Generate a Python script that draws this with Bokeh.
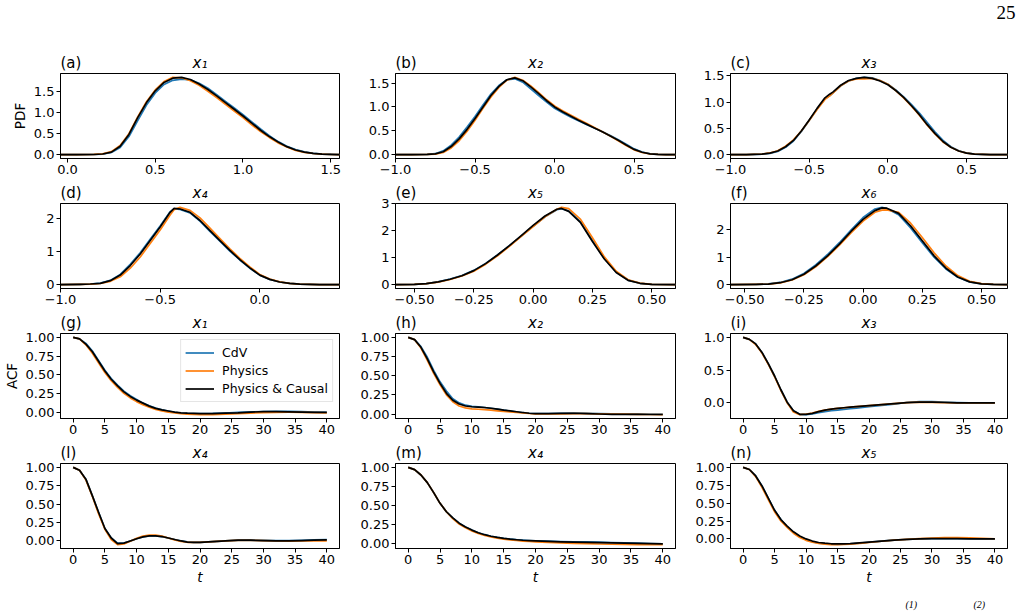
from bokeh.plotting import figure
from bokeh.models import Range1d, FixedTicker, Label, Legend, LegendItem
from bokeh.layouts import column, row
from bokeh.embed import file_html
from bokeh.resources import INLINE

SANS = "DejaVu Sans"
SERIF = "Liberation Serif"
C_CDV = "#1f77b4"
C_PHYS = "#ff7f0e"
C_CAUSAL = "#000000"
series_names = ["CdV", "Physics", "Physics & Causal"]

# ---------------- PDF panels ----------------
pdf_a_x = [-0.04, 0.05, 0.15, 0.2, 0.25, 0.3, 0.35, 0.4, 0.45, 0.5, 0.55, 0.6, 0.65, 0.7, 0.75,
           0.8, 0.85, 0.9, 0.95, 1.0, 1.05, 1.1, 1.15, 1.2, 1.25, 1.3, 1.35, 1.4, 1.45, 1.5, 1.55]
pdf_a_cdv = [0, 0, 0.003, 0.013, 0.05, 0.17, 0.43, 0.81, 1.18, 1.47, 1.67, 1.77, 1.80, 1.78, 1.70,
             1.58, 1.43, 1.27, 1.11, 0.95, 0.78, 0.61, 0.45, 0.31, 0.20, 0.12, 0.065, 0.032, 0.013, 0.004, 0.0]
pdf_a_phys = [0, 0, 0.004, 0.018, 0.07, 0.22, 0.50, 0.90, 1.26, 1.54, 1.74, 1.84, 1.83, 1.76, 1.65,
              1.51, 1.36, 1.20, 1.04, 0.88, 0.71, 0.55, 0.41, 0.28, 0.18, 0.10, 0.055, 0.027, 0.010, 0.003, 0.0]
pdf_a_causal = [0, 0, 0.003, 0.015, 0.06, 0.20, 0.48, 0.88, 1.24, 1.52, 1.72, 1.82, 1.84, 1.79, 1.68,
                1.55, 1.40, 1.24, 1.08, 0.92, 0.75, 0.58, 0.43, 0.30, 0.19, 0.11, 0.06, 0.03, 0.012, 0.004, 0.0]

pdf_b_x = [-1.0, -0.9, -0.8, -0.75, -0.7, -0.65, -0.6, -0.55, -0.5, -0.45, -0.4, -0.35, -0.3, -0.25,
           -0.2, -0.15, -0.1, -0.05, 0.0, 0.05, 0.1, 0.15, 0.2, 0.25, 0.3, 0.35, 0.4, 0.45, 0.5, 0.55,
           0.6, 0.65, 0.7, 0.76]
pdf_b_cdv = [0, 0, 0.006, 0.02, 0.08, 0.20, 0.37, 0.58, 0.80, 1.04, 1.27, 1.45, 1.57, 1.59, 1.52, 1.38,
             1.24, 1.10, 0.97, 0.88, 0.79, 0.71, 0.63, 0.56, 0.48, 0.40, 0.31, 0.22, 0.12, 0.055, 0.018,
             0.006, 0.0, 0.0]
pdf_b_phys = [0, 0, 0.004, 0.012, 0.045, 0.14, 0.29, 0.49, 0.72, 0.97, 1.21, 1.41, 1.56, 1.62, 1.56,
              1.44, 1.30, 1.15, 1.02, 0.92, 0.83, 0.74, 0.66, 0.57, 0.48, 0.39, 0.29, 0.19, 0.10, 0.045,
              0.013, 0.004, 0.0, 0.0]
pdf_b_causal = [0, 0, 0.005, 0.015, 0.06, 0.17, 0.33, 0.53, 0.76, 1.00, 1.24, 1.43, 1.57, 1.61, 1.55,
                1.42, 1.28, 1.13, 1.00, 0.90, 0.81, 0.72, 0.64, 0.56, 0.48, 0.39, 0.30, 0.20, 0.11, 0.05,
                0.015, 0.005, 0.0, 0.0]

pdf_c_x = [-1.0, -0.9, -0.8, -0.75, -0.7, -0.65, -0.6, -0.55, -0.5, -0.45, -0.4, -0.37, -0.35, -0.3,
           -0.25, -0.2, -0.15, -0.1, -0.05, 0.0, 0.05, 0.1, 0.15, 0.2, 0.25, 0.3, 0.35, 0.4, 0.45, 0.5,
           0.55, 0.6, 0.65, 0.76]
pdf_c_cdv = [0, 0, 0.01, 0.025, 0.06, 0.14, 0.26, 0.44, 0.65, 0.87, 1.06, 1.12, 1.17, 1.31, 1.40, 1.45,
             1.47, 1.46, 1.41, 1.34, 1.23, 1.10, 0.95, 0.79, 0.61, 0.43, 0.27, 0.15, 0.075, 0.032, 0.011,
             0.004, 0, 0]
pdf_c_phys = [0, 0, 0.012, 0.032, 0.075, 0.16, 0.28, 0.45, 0.65, 0.86, 1.05, 1.12, 1.17, 1.31, 1.40, 1.44,
              1.44, 1.45, 1.41, 1.34, 1.22, 1.08, 0.92, 0.75, 0.56, 0.39, 0.24, 0.14, 0.07, 0.03, 0.012,
              0.005, 0, 0]
pdf_c_causal = [0, 0, 0.01, 0.03, 0.07, 0.15, 0.27, 0.45, 0.66, 0.88, 1.08, 1.15, 1.19, 1.32, 1.41, 1.45,
                1.47, 1.45, 1.40, 1.33, 1.22, 1.09, 0.93, 0.76, 0.57, 0.40, 0.25, 0.14, 0.07, 0.03, 0.01,
                0.005, 0, 0]

pdf_d_x = [-1.0, -0.9, -0.85, -0.8, -0.75, -0.7, -0.65, -0.6, -0.55, -0.5, -0.45, -0.43, -0.4, -0.35,
           -0.3, -0.25, -0.2, -0.15, -0.1, -0.05, 0.0, 0.05, 0.1, 0.15, 0.2, 0.3, 0.4]
pdf_d_cdv = [0, 0.01, 0.02, 0.045, 0.13, 0.31, 0.62, 0.97, 1.38, 1.78, 2.22, 2.30, 2.29, 2.18, 1.93, 1.62,
             1.32, 1.02, 0.75, 0.50, 0.29, 0.16, 0.08, 0.04, 0.015, 0, 0]
pdf_d_phys = [0, 0.008, 0.015, 0.035, 0.10, 0.24, 0.50, 0.84, 1.25, 1.66, 2.12, 2.28, 2.35, 2.26, 2.03,
              1.72, 1.40, 1.09, 0.80, 0.54, 0.31, 0.17, 0.085, 0.04, 0.015, 0, 0]
pdf_d_causal = [0, 0.01, 0.02, 0.04, 0.12, 0.29, 0.58, 0.93, 1.34, 1.75, 2.20, 2.32, 2.30, 2.20, 1.95,
                1.64, 1.34, 1.04, 0.76, 0.51, 0.29, 0.16, 0.08, 0.04, 0.015, 0, 0]

pdf_e_x = [-0.58, -0.5, -0.45, -0.4, -0.35, -0.3, -0.25, -0.2, -0.15, -0.1, -0.05, 0.0, 0.05, 0.1, 0.12,
           0.15, 0.2, 0.25, 0.3, 0.35, 0.4, 0.45, 0.5, 0.6]
pdf_e_cdv = [0, 0.01, 0.04, 0.10, 0.21, 0.34, 0.53, 0.79, 1.10, 1.45, 1.80, 2.17, 2.52, 2.78, 2.82, 2.74,
             2.33, 1.64, 0.98, 0.47, 0.17, 0.05, 0.01, 0]
pdf_e_phys = [0, 0.01, 0.035, 0.09, 0.19, 0.32, 0.50, 0.76, 1.07, 1.42, 1.79, 2.16, 2.52, 2.80, 2.87, 2.82,
              2.42, 1.74, 1.03, 0.50, 0.18, 0.055, 0.012, 0]
pdf_e_causal = [0, 0.01, 0.04, 0.10, 0.20, 0.33, 0.52, 0.78, 1.10, 1.45, 1.82, 2.20, 2.55, 2.80, 2.83, 2.72,
                2.30, 1.60, 0.95, 0.45, 0.16, 0.05, 0.01, 0]

pdf_f_x = [-0.56, -0.45, -0.4, -0.35, -0.3, -0.25, -0.2, -0.15, -0.1, -0.05, 0.0, 0.05, 0.08, 0.1, 0.15,
           0.2, 0.25, 0.3, 0.35, 0.4, 0.45, 0.5, 0.55, 0.61]
pdf_f_cdv = [0, 0.01, 0.025, 0.08, 0.20, 0.41, 0.72, 1.10, 1.53, 2.00, 2.45, 2.76, 2.82, 2.78, 2.55, 2.08,
             1.53, 1.00, 0.57, 0.27, 0.10, 0.03, 0.01, 0]
pdf_f_phys = [0, 0.01, 0.02, 0.065, 0.17, 0.36, 0.65, 1.02, 1.44, 1.90, 2.32, 2.64, 2.72, 2.73, 2.64, 2.25,
              1.72, 1.16, 0.68, 0.33, 0.12, 0.035, 0.01, 0]
pdf_f_causal = [0, 0.01, 0.02, 0.07, 0.18, 0.38, 0.68, 1.05, 1.48, 1.95, 2.38, 2.70, 2.80, 2.79, 2.60,
                2.15, 1.60, 1.05, 0.60, 0.28, 0.10, 0.03, 0.01, 0]

# ---------------- ACF panels ----------------
lag_t = list(range(0, 21)) + list(range(22, 41, 2))

acf_g_cdv = [1.00, 0.98, 0.92, 0.82, 0.69, 0.56, 0.45, 0.36, 0.28, 0.22, 0.17, 0.12, 0.085, 0.055, 0.03,
             0.012, -0.002, -0.012, -0.018, -0.02, -0.02,
             -0.018, -0.012, -0.005, 0.002, 0.008, 0.01, 0.01, 0.006, 0.0, -0.004]
acf_g_phys = [1.00, 0.98, 0.90, 0.79, 0.66, 0.53, 0.42, 0.33, 0.25, 0.19, 0.14, 0.10, 0.065, 0.035, 0.015,
              0.0, -0.012, -0.022, -0.028, -0.032, -0.034,
              -0.033, -0.028, -0.02, -0.013, -0.007, -0.003, -0.002, -0.004, -0.007, -0.01]
acf_g_causal = [1.00, 0.98, 0.91, 0.81, 0.68, 0.55, 0.44, 0.35, 0.27, 0.21, 0.16, 0.12, 0.08, 0.05, 0.03,
                0.015, 0.0, -0.01, -0.015, -0.018, -0.02,
                -0.02, -0.015, -0.01, 0.0, 0.005, 0.005, 0.003, 0.0, -0.003, -0.005]

acf_h_cdv = [1.0, 0.97, 0.88, 0.74, 0.57, 0.42, 0.30, 0.20, 0.145, 0.115, 0.10, 0.092, 0.085, 0.075, 0.063,
             0.05, 0.038, 0.027, 0.017, 0.01, 0.006,
             0.006, 0.009, 0.012, 0.01, 0.006, 0.002, 0.0, -0.002, -0.003, -0.004]
acf_h_phys = [1.0, 0.97, 0.86, 0.70, 0.53, 0.38, 0.25, 0.16, 0.105, 0.08, 0.068, 0.062, 0.057, 0.05, 0.042,
              0.034, 0.027, 0.02, 0.013, 0.007, 0.003,
              0.0, 0.002, 0.004, 0.004, 0.002, 0.0, -0.002, -0.004, -0.006, -0.008]
acf_h_causal = [1.0, 0.97, 0.87, 0.72, 0.55, 0.40, 0.27, 0.18, 0.13, 0.105, 0.095, 0.09, 0.085, 0.075, 0.065,
                0.05, 0.04, 0.03, 0.02, 0.01, 0.005,
                0.005, 0.008, 0.01, 0.006, 0.0, -0.004, -0.005, -0.005, -0.006, -0.006]

acf_i_cdv = [1.0, 0.97, 0.90, 0.77, 0.60, 0.41, 0.20, 0.01, -0.12, -0.175, -0.18, -0.168, -0.15, -0.135,
             -0.12, -0.11, -0.1, -0.09, -0.08, -0.07, -0.06,
             -0.04, -0.02, 0.005, 0.02, 0.018, 0.01, 0.004, 0.001, 0.0, 0.0]
acf_i_phys = [1.0, 0.97, 0.89, 0.76, 0.59, 0.40, 0.19, 0.0, -0.14, -0.18, -0.17, -0.155, -0.13, -0.11,
              -0.095, -0.085, -0.075, -0.066, -0.058, -0.05, -0.043,
              -0.028, -0.012, 0.003, 0.01, 0.008, 0.004, 0.001, 0.0, 0.0, 0.0]
acf_i_causal = [1.0, 0.97, 0.90, 0.77, 0.60, 0.41, 0.20, 0.01, -0.12, -0.175, -0.175, -0.16, -0.135, -0.11,
                -0.095, -0.085, -0.075, -0.065, -0.057, -0.05, -0.043,
                -0.028, -0.012, 0.004, 0.012, 0.01, 0.005, 0.001, 0.0, 0.0, 0.0]

acf_l_cdv = [1.0, 0.96, 0.84, 0.62, 0.39, 0.17, 0.04, -0.03, -0.03, 0.0, 0.03, 0.055, 0.068, 0.068, 0.058,
             0.04, 0.02, 0.002, -0.012, -0.018, -0.018,
             -0.01, 0.0, 0.008, 0.01, 0.008, 0.004, 0.004, 0.008, 0.015, 0.02]
acf_l_phys = [1.0, 0.96, 0.83, 0.61, 0.37, 0.16, 0.02, -0.05, -0.04, -0.005, 0.035, 0.065, 0.08, 0.08, 0.065,
              0.04, 0.015, -0.005, -0.018, -0.02, -0.018,
              -0.008, 0.002, 0.008, 0.008, 0.004, 0.0, -0.002, 0.0, 0.0, 0.0]
acf_l_causal = [1.0, 0.96, 0.84, 0.62, 0.39, 0.17, 0.04, -0.035, -0.03, 0.0, 0.03, 0.055, 0.07, 0.07, 0.06,
                0.04, 0.02, 0.0, -0.015, -0.02, -0.02,
                -0.01, 0.0, 0.01, 0.01, 0.005, 0.0, 0.0, 0.005, 0.01, 0.015]

acf_m_cdv = [1.0, 0.97, 0.90, 0.80, 0.67, 0.53, 0.42, 0.34, 0.27, 0.22, 0.18, 0.145, 0.12, 0.10, 0.085,
             0.072, 0.063, 0.055, 0.049, 0.044, 0.04,
             0.035, 0.031, 0.028, 0.025, 0.022, 0.018, 0.014, 0.01, 0.005, 0.0]
acf_m_phys = [1.0, 0.97, 0.90, 0.80, 0.67, 0.53, 0.42, 0.33, 0.26, 0.21, 0.17, 0.135, 0.11, 0.09, 0.075,
              0.062, 0.052, 0.044, 0.037, 0.031, 0.026,
              0.018, 0.012, 0.006, 0.002, -0.002, -0.005, -0.007, -0.009, -0.01, -0.01]
acf_m_causal = [1.0, 0.97, 0.90, 0.80, 0.67, 0.53, 0.42, 0.34, 0.27, 0.22, 0.18, 0.145, 0.12, 0.10, 0.085,
                0.072, 0.062, 0.054, 0.047, 0.042, 0.038,
                0.032, 0.027, 0.023, 0.02, 0.017, 0.013, 0.01, 0.006, 0.003, 0.0]

acf_n_cdv = [1.0, 0.97, 0.88, 0.74, 0.57, 0.40, 0.27, 0.17, 0.09, 0.03, -0.01, -0.04, -0.058, -0.068,
             -0.074, -0.076, -0.074, -0.07, -0.063, -0.055, -0.047,
             -0.032, -0.018, -0.008, 0.0, 0.004, 0.005, 0.004, 0.002, 0.001, 0.0]
acf_n_phys = [1.0, 0.97, 0.87, 0.72, 0.55, 0.38, 0.25, 0.16, 0.08, 0.02, -0.02, -0.045, -0.062, -0.073,
              -0.079, -0.08, -0.078, -0.073, -0.066, -0.058, -0.05,
              -0.033, -0.018, -0.006, 0.004, 0.012, 0.018, 0.02, 0.015, 0.007, 0.002]
acf_n_causal = [1.0, 0.97, 0.88, 0.74, 0.57, 0.40, 0.27, 0.18, 0.10, 0.04, 0.0, -0.03, -0.05, -0.06,
                -0.068, -0.07, -0.07, -0.066, -0.06, -0.053, -0.045,
                -0.03, -0.017, -0.007, 0.0, 0.003, 0.004, 0.003, 0.001, 0.0, 0.0]

# ---------------- ticks ----------------
ticks_a_x = [0.0, 0.5, 1.0, 1.5]
labels_a_x = ["0.0", "0.5", "1.0", "1.5"]
ticks_bc_x = [-1.0, -0.5, 0.0, 0.5]
labels_bc_x = ["\u22121.0", "\u22120.5", "0.0", "0.5"]
ticks_d_x = [-1.0, -0.5, 0.0]
labels_d_x = ["\u22121.0", "\u22120.5", "0.0"]
ticks_ef_x = [-0.5, -0.25, 0.0, 0.25, 0.5]
labels_ef_x = ["\u22120.50", "\u22120.25", "0.00", "0.25", "0.50"]
ticks_pdf_y = [0.0, 0.5, 1.0, 1.5]
labels_pdf_y = ["0.0", "0.5", "1.0", "1.5"]
ticks_int_y = [0, 1, 2, 3]
labels_int_y = ["0", "1", "2", "3"]
ticks_lag = [0, 5, 10, 15, 20, 25, 30, 35, 40]
labels_lag = ["0", "5", "10", "15", "20", "25", "30", "35", "40"]
ticks_acf_y = [0.0, 0.25, 0.5, 0.75, 1.0]
labels_acf_y = ["0.00", "0.25", "0.50", "0.75", "1.00"]
ticks_acf_i_y = [0.0, 0.5, 1.0]
labels_acf_i_y = ["0.0", "0.5", "1.0"]

# ---------------- grid geometry (pixels) ----------------
COL_W = [355, 336, 331]
COL_L = [60, 40, 39]
COL_R = [16, 16, 15]
ROW_H = [182, 130, 130, 169]
ROW_T = [73, 21, 21, 21]
ROW_B = [24, 24, 24, 63]
TITLE_SIZE = "15px"


def auto_range(arrays):
    lo = min(min(a) for a in arrays)
    hi = max(max(a) for a in arrays)
    pad = 0.05 * (hi - lo)
    return lo - pad, hi + pad


def panel(r, c, xs, ys_list, x_rng, xt, xl, yt, yl, tag, name):
    y_rng = auto_range(ys_list)
    p = figure(width=COL_W[c], height=ROW_H[r],
               x_range=Range1d(*x_rng), y_range=Range1d(*y_rng),
               output_backend="svg", toolbar_location=None, title=None,
               min_border_left=COL_L[c], min_border_right=COL_R[c],
               min_border_top=ROW_T[r], min_border_bottom=ROW_B[r])
    rends = []
    for ys, color in zip(ys_list, [C_CDV, C_PHYS, C_CAUSAL]):
        rends.append(p.line(xs, ys, line_color=color, line_width=1.7, line_join="round"))
    p.xgrid.visible = False
    p.ygrid.visible = False
    p.outline_line_color = "black"
    p.outline_line_alpha = 1.0
    p.outline_line_width = 1
    for ax, ticks, labels in ((p.xaxis[0], xt, xl), (p.yaxis[0], yt, yl)):
        ax.ticker = FixedTicker(ticks=ticks)
        ax.major_label_overrides = {t: s for t, s in zip(ticks, labels)}
        ax.major_tick_in = 0
        ax.major_tick_out = 4
        ax.minor_tick_in = 0
        ax.minor_tick_out = 0
        ax.axis_line_color = "black"
        ax.major_tick_line_color = "black"
        ax.major_label_text_font = SANS
        ax.major_label_text_font_size = "13px"
        ax.major_label_text_color = "black"
        ax.major_label_standoff = 2
        ax.axis_label_text_font = SANS
        ax.axis_label_text_font_size = "13.5px"
        ax.axis_label_text_color = "black"
        ax.axis_label_standoff = 3
    # panel tag (left) and variable name (centred) just above the frame; they are
    # hosted in different side panels so that they share one line
    p.add_layout(Label(x=x_rng[0], y=y_rng[1], text=tag, text_align="left",
                       text_baseline="bottom", y_offset=2, text_font=SANS,
                       text_font_size=TITLE_SIZE, text_color="black"), "above")
    p.add_layout(Label(x=(x_rng[0] + x_rng[1]) / 2, y=y_rng[1], text=name, text_align="center",
                       text_baseline="bottom", y_offset=2, text_font=SANS, text_font_style="italic",
                       text_font_size=TITLE_SIZE, text_color="black"), "right")
    return p, rends, x_rng, y_rng


ACF_X = (-2, 42)

pa, _, _, _ = panel(0, 0, pdf_a_x, [pdf_a_cdv, pdf_a_phys, pdf_a_causal], (pdf_a_x[0], pdf_a_x[-1]),
                    ticks_a_x, labels_a_x, ticks_pdf_y, labels_pdf_y, "(a)", "x\u2081")
pb, _, _, _ = panel(0, 1, pdf_b_x, [pdf_b_cdv, pdf_b_phys, pdf_b_causal], (pdf_b_x[0], pdf_b_x[-1]),
                    ticks_bc_x, labels_bc_x, ticks_pdf_y, labels_pdf_y, "(b)", "x\u2082")
pc, _, c_xr, c_yr = panel(0, 2, pdf_c_x, [pdf_c_cdv, pdf_c_phys, pdf_c_causal], (pdf_c_x[0], pdf_c_x[-1]),
                          ticks_bc_x, labels_bc_x, ticks_pdf_y, labels_pdf_y, "(c)", "x\u2083")
pd_, _, _, _ = panel(1, 0, pdf_d_x, [pdf_d_cdv, pdf_d_phys, pdf_d_causal], (pdf_d_x[0], pdf_d_x[-1]),
                     ticks_d_x, labels_d_x, ticks_int_y, labels_int_y, "(d)", "x\u2084")
pe, _, _, _ = panel(1, 1, pdf_e_x, [pdf_e_cdv, pdf_e_phys, pdf_e_causal], (pdf_e_x[0], pdf_e_x[-1]),
                    ticks_ef_x, labels_ef_x, ticks_int_y, labels_int_y, "(e)", "x\u2085")
pf, _, _, _ = panel(1, 2, pdf_f_x, [pdf_f_cdv, pdf_f_phys, pdf_f_causal], (pdf_f_x[0], pdf_f_x[-1]),
                    ticks_ef_x, labels_ef_x, ticks_int_y, labels_int_y, "(f)", "x\u2086")

pg, g_rends, _, _ = panel(2, 0, lag_t, [acf_g_cdv, acf_g_phys, acf_g_causal], ACF_X,
                          ticks_lag, labels_lag, ticks_acf_y, labels_acf_y, "(g)", "x\u2081")
ph, _, _, _ = panel(2, 1, lag_t, [acf_h_cdv, acf_h_phys, acf_h_causal], ACF_X,
                    ticks_lag, labels_lag, ticks_acf_y, labels_acf_y, "(h)", "x\u2082")
pi, _, _, _ = panel(2, 2, lag_t, [acf_i_cdv, acf_i_phys, acf_i_causal], ACF_X,
                    ticks_lag, labels_lag, ticks_acf_i_y, labels_acf_i_y, "(i)", "x\u2083")
pl, _, _, _ = panel(3, 0, lag_t, [acf_l_cdv, acf_l_phys, acf_l_causal], ACF_X,
                    ticks_lag, labels_lag, ticks_acf_y, labels_acf_y, "(l)", "x\u2084")
pm, _, _, _ = panel(3, 1, lag_t, [acf_m_cdv, acf_m_phys, acf_m_causal], ACF_X,
                    ticks_lag, labels_lag, ticks_acf_y, labels_acf_y, "(m)", "x\u2084")
pn, _, n_xr, n_yr = panel(3, 2, lag_t, [acf_n_cdv, acf_n_phys, acf_n_causal], ACF_X,
                          ticks_lag, labels_lag, ticks_acf_y, labels_acf_y, "(n)", "x\u2085")

# axis titles
pa.yaxis[0].axis_label = "PDF"
pa.yaxis[0].axis_label_text_font_style = "normal"
pg.yaxis[0].axis_label = "ACF"
pg.yaxis[0].axis_label_text_font_style = "normal"
for p in (pl, pm, pn):
    p.xaxis[0].axis_label = "t"
    p.xaxis[0].axis_label_text_font_style = "italic"
    p.xaxis[0].axis_label_standoff = 2

# legend
legend = Legend(items=[LegendItem(label=nm, renderers=[rd]) for nm, rd in zip(series_names, g_rends)],
                location="top_right", margin=6, padding=4, spacing=1,
                glyph_width=29, glyph_height=17, label_height=17, label_standoff=8,
                label_text_font=SANS, label_text_font_size="12.5px", label_text_color="black",
                border_line_color="#cccccc", border_line_width=1,
                background_fill_color="white", background_fill_alpha=0.8)
pg.add_layout(legend)

# page number of the document
pc.add_layout(Label(x=c_xr[1], y=c_yr[1], text="25", text_align="right", text_baseline="top",
                    x_offset=8, y_offset=68, text_font=SERIF, text_font_size="19px",
                    text_color="black"), "above")

# caption fragments along the bottom edge
for txt, dx in (("(1)", 175), ("(2)", 243)):
    pn.add_layout(Label(x=n_xr[0], y=n_yr[0], text=txt, text_align="left", text_baseline="bottom",
                        x_offset=dx, y_offset=-61, text_font=SERIF, text_font_style="italic",
                        text_font_size="10px", text_color="black"), "below")

layout = column(row(pa, pb, pc), row(pd_, pe, pf), row(pg, ph, pi), row(pl, pm, pn))

with open("out.html", "w") as fh:
    fh.write(file_html(layout, INLINE))
